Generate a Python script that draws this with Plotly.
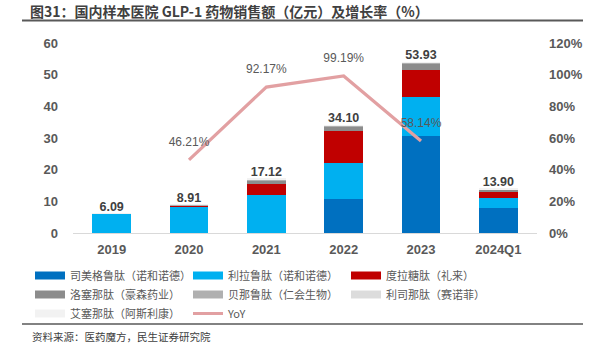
import plotly.graph_objects as go

years = ["2019", "2020", "2021", "2022", "2023", "2024Q1"]
series_names = ["司美格鲁肽（诺和诺德）", "利拉鲁肽（诺和诺德）", "度拉糖肽（礼来）",
                "洛塞那肽（豪森药业）", "贝那鲁肽（仁会生物）", "利司那肽（赛诺菲）",
                "艾塞那肽（阿斯利康）"]
semaglutide = [0.0, 0.0, 0.0, 10.6, 30.7, 7.9]
liraglutide = [6.0, 8.3, 12.0, 11.6, 12.2, 3.3]
dulaglutide = [0.0, 0.4, 3.6, 9.9, 8.5, 1.8]
loxenatide = [0.0, 0.1, 0.9, 1.5, 2.2, 0.6]
beinaglutide = [0.05, 0.05, 0.3, 0.3, 0.2, 0.2]
lixisenatide = [0.02, 0.03, 0.2, 0.1, 0.1, 0.05]
exenatide = [0.02, 0.03, 0.12, 0.1, 0.03, 0.05]
totals = [6.09, 8.91, 17.12, 34.10, 53.93, 13.90]
yoy_years = ["2020", "2021", "2022", "2023"]
yoy = [46.21, 92.17, 99.19, 58.14]
left_ticks = [0, 10, 20, 30, 40, 50, 60]
right_ticks = [0, 20, 40, 60, 80, 100, 120]
right_tick_labels = ["0%", "20%", "40%", "60%", "80%", "100%", "120%"]

colors = ["#0070C0", "#00B0F0", "#C00000", "#8C8C8C", "#B0B0B0", "#DCDCDC", "#F2F2F2"]
yoy_color = "#E2A0A2"
FONT = "Liberation Sans, Arial, Noto Sans CJK SC"
CJK = "Noto Sans CJK SC, Liberation Sans"

fig = go.Figure()
all_series = [semaglutide, liraglutide, dulaglutide, loxenatide, beinaglutide, lixisenatide, exenatide]
for name, vals, c in zip(series_names, all_series, colors):
    fig.add_trace(go.Bar(x=years, y=vals, name=name, marker=dict(color=c, line=dict(width=0)),
                         width=0.5, showlegend=False))

# totals labels
fig.add_trace(go.Scatter(x=years, y=totals, mode="text", text=[f"{v:.2f}" for v in totals],
                         textposition="top center", showlegend=False,
                         textfont=dict(family=FONT, size=12.5, color="#404040", weight="bold")))

# YoY line
fig.add_trace(go.Scatter(x=yoy_years, y=yoy, mode="lines", yaxis="y2",
                         line=dict(color=yoy_color, width=3.2), showlegend=False))
fig.add_trace(go.Scatter(x=yoy_years, y=yoy, mode="markers+text", yaxis="y2",
                         text=[f"{v:.2f}%" for v in yoy], textposition="top center",
                         marker=dict(size=16, color="rgba(0,0,0,0)"), showlegend=False,
                         textfont=dict(family=FONT, size=12, color="#595959")))

# legend entries
for name, c in zip(series_names, colors):
    fig.add_trace(go.Scatter(x=[None], y=[None], mode="lines", name=name,
                             line=dict(color=c, width=8)))
fig.add_trace(go.Scatter(x=[None], y=[None], mode="lines", name="YoY",
                         line=dict(color=yoy_color, width=3)))

L, R, T, B = 73, 69, 43, 118
W, H = 606, 351
ph = H - T - B
pw = W - L - R

def px(x):
    return (x - L) / pw

def py(y):
    return (H - B - y) / ph

fig.update_layout(
    width=W, height=H,
    margin=dict(l=L, r=R, t=T, b=B, pad=0, autoexpand=False),
    barmode="stack",
    paper_bgcolor="white", plot_bgcolor="white",
    font=dict(family=CJK, color="#595959"),
    title=dict(text="图31：国内样本医院 GLP-1 药物销售额（亿元）及增长率（%）",
               x=30 / W, xref="container", xanchor="left",
               y=1 - 12 / H, yref="container", yanchor="middle",
               font=dict(family=CJK, size=14, color="#404040", weight="bold")),
    xaxis=dict(type="category", showgrid=False, showline=True, linecolor="#D9D9D9", linewidth=1,
               ticks="", tickfont=dict(family=FONT, size=13, color="#595959", weight="bold"),
               range=[-0.5, 5.5], ticklabelstandoff=4),
    yaxis=dict(range=[0, 60], tickvals=left_ticks, showgrid=False, zeroline=False,
               tickfont=dict(family=FONT, size=13, color="#595959", weight="bold"), ticklabelstandoff=14),
    yaxis2=dict(range=[0, 120], tickvals=right_ticks, ticktext=right_tick_labels,
                overlaying="y", side="right", showgrid=False, zeroline=False,
                tickfont=dict(family=FONT, size=13, color="#595959", weight="bold"), ticklabelstandoff=11),
    legend=dict(orientation="h", x=px(30), y=py(261), xanchor="left", yanchor="top",
                entrywidth=113, entrywidthmode="pixels", tracegroupgap=0, traceorder="normal",
                font=dict(family=CJK, size=11, color="#595959"), bgcolor="rgba(0,0,0,0)"),
    shapes=[
        dict(type="line", xref="paper", yref="paper", x0=px(22), x1=px(583), y0=py(20.5), y1=py(20.5),
             line=dict(color="#595959", width=2)),
        dict(type="line", xref="paper", yref="paper", x0=px(22), x1=px(583), y0=py(324), y1=py(324),
             line=dict(color="#595959", width=1.5)),
    ],
    annotations=[
        dict(text="资料来源：医药魔方，民生证券研究院", xref="paper", yref="paper",
             x=px(30), y=py(336), xanchor="left", yanchor="middle", showarrow=False,
             font=dict(family=CJK, size=10.5, color="#404040")),
    ],
)

fig.write_html("out.html")
